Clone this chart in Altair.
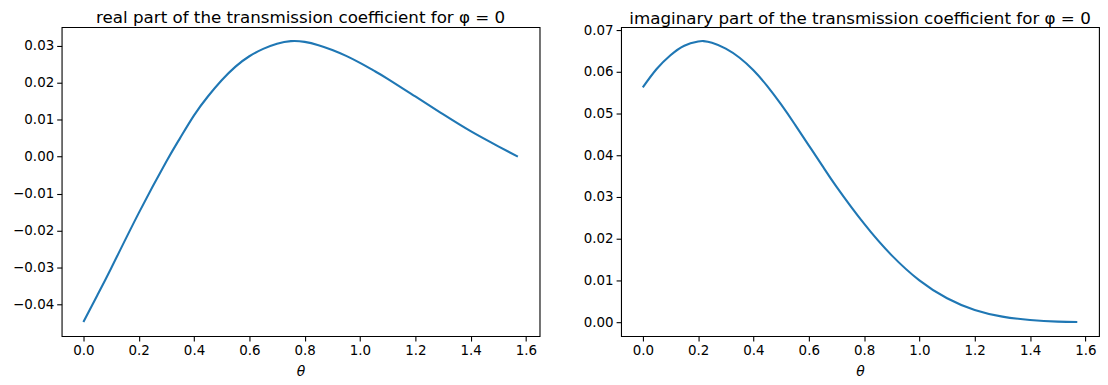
import altair as alt
import pandas as pd

theta_re = [0.0, 0.05, 0.1, 0.2, 0.3, 0.35, 0.4, 0.45, 0.5, 0.55, 0.6, 0.65, 0.7, 0.75,
            0.8, 0.85, 0.9, 0.95, 1.0, 1.05, 1.1, 1.2, 1.3, 1.4, 1.5, 1.5708]
re_vals = [-0.0448, -0.0376, -0.0303, -0.0153, -0.0013, 0.0051, 0.0112, 0.0163,
           0.0207, 0.0244, 0.0272, 0.0292, 0.0306, 0.0313, 0.0311, 0.0302, 0.0289,
           0.0273, 0.0254, 0.0233, 0.0211, 0.0163, 0.0115, 0.0069, 0.0028, 0.0]

theta_im = [0.0, 0.05, 0.1, 0.15, 0.2, 0.22, 0.25, 0.3, 0.35, 0.4, 0.45, 0.5, 0.55,
            0.6, 0.65, 0.7, 0.8, 0.9, 1.0, 1.1, 1.2, 1.3, 1.4, 1.5, 1.5708]
im_vals = [0.0563, 0.0607, 0.0640, 0.0663, 0.0673, 0.0674, 0.0670, 0.0656, 0.0634,
           0.0604, 0.0566, 0.0522, 0.0474, 0.0424, 0.0374, 0.0325, 0.0236, 0.0160,
           0.0100, 0.0057, 0.0029, 0.0013, 0.0005, 0.0001, 0.0]

x_ticks = [0.0, 0.2, 0.4, 0.6, 0.8, 1.0, 1.2, 1.4, 1.6]
re_ticks = [-0.04, -0.03, -0.02, -0.01, 0.0, 0.01, 0.02, 0.03]
im_ticks = [0.0, 0.01, 0.02, 0.03, 0.04, 0.05, 0.06, 0.07]

titles = ["real part of the transmission coefficient for \u03c6 = 0",
          "imaginary part of the transmission coefficient for \u03c6 = 0"]

FONT = "DejaVu Sans"


def margin_domain(vals):
    lo, hi = min(vals), max(vals)
    m = (hi - lo) * 0.05
    return [lo - m, hi + m]


def panel(theta, vals, yticks, title, title_offset):
    df = pd.DataFrame({"theta": theta, "v": vals})
    return alt.Chart(df, title=alt.TitleParams(
        title, fontSize=16.8, font=FONT, fontWeight="normal", color="black",
        offset=title_offset, anchor="middle", frame="group")).mark_line(
        color="#1f77b4", strokeWidth=2.1, interpolate="natural"
    ).encode(
        x=alt.X("theta:Q", title="\u03b8",
                scale=alt.Scale(domain=margin_domain(theta), nice=False, zero=False),
                axis=alt.Axis(values=x_ticks, format=".1f", titleFontStyle="italic")),
        y=alt.Y("v:Q", title=None,
                scale=alt.Scale(domain=margin_domain(vals), nice=False, zero=False),
                axis=alt.Axis(values=yticks, format=".2f")),
    ).properties(width=481, height=311)


left = panel(theta_re, re_vals, re_ticks, titles[0], 0)
right = panel(theta_im, im_vals, im_ticks, titles[1], -4)

chart = alt.hconcat(left, right, spacing=42).properties(
    padding={"left": 4, "top": 0, "right": 0, "bottom": 0}
).configure_view(
    stroke="black", strokeWidth=1.1
).configure_axis(
    domain=False, grid=False, ticks=True, tickColor="black", tickSize=5,
    tickWidth=1.1, labelFont=FONT, labelFontSize=13.5, labelColor="black",
    labelPadding=3, titleFont=FONT, titleFontSize=14, titleColor="black",
    titleFontWeight="normal", titlePadding=7
)

chart.save("out.html", embed_options={"renderer": "svg", "actions": False})
